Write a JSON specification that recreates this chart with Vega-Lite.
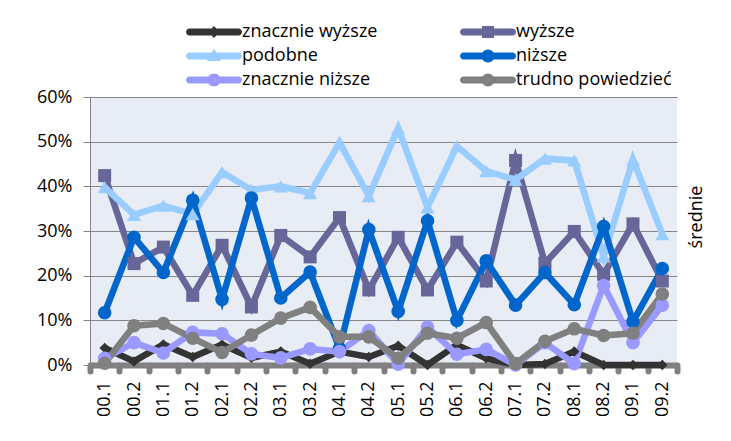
{
  "$schema": "https://vega.github.io/schema/vega-lite/v6.json",
  "width": 587,
  "height": 268,
  "autosize": {"type": "none"},
  "padding": {"left": 90, "top": 97, "right": 54, "bottom": 76},
  "background": "white",
  "title": {"text": "średnie", "orient": "right", "angle": -90, "anchor": "middle", "offset": -10, "dx": 14, "fontSize": 18, "font": "Open Sans", "fontWeight": "normal", "color": "black"},
  "config": {"view": {"fill": "#E8ECF4", "stroke": null}, "font": "Open Sans"},
  "data": {"values": [
    {"o":"00.1","s":"znacznie wyższe","v":3.8},{"o":"00.2","s":"znacznie wyższe","v":0.8},{"o":"01.1","s":"znacznie wyższe","v":4.6},{"o":"01.2","s":"znacznie wyższe","v":1.8},{"o":"02.1","s":"znacznie wyższe","v":4.6},{"o":"02.2","s":"znacznie wyższe","v":1.6},{"o":"03.1","s":"znacznie wyższe","v":3},{"o":"03.2","s":"znacznie wyższe","v":0.3},{"o":"04.1","s":"znacznie wyższe","v":3},{"o":"04.2","s":"znacznie wyższe","v":1.8},{"o":"05.1","s":"znacznie wyższe","v":4.3},{"o":"05.2","s":"znacznie wyższe","v":0},{"o":"06.1","s":"znacznie wyższe","v":4.5},{"o":"06.2","s":"znacznie wyższe","v":1.5},{"o":"07.1","s":"znacznie wyższe","v":0},{"o":"07.2","s":"znacznie wyższe","v":0.2},{"o":"08.1","s":"znacznie wyższe","v":3},{"o":"08.2","s":"znacznie wyższe","v":0},{"o":"09.1","s":"znacznie wyższe","v":0},{"o":"09.2","s":"znacznie wyższe","v":0},
    {"o":"00.1","s":"wyższe","v":42.4},{"o":"00.2","s":"wyższe","v":22.7},{"o":"01.1","s":"wyższe","v":26.4},{"o":"01.2","s":"wyższe","v":15.6},{"o":"02.1","s":"wyższe","v":26.8},{"o":"02.2","s":"wyższe","v":13},{"o":"03.1","s":"wyższe","v":29},{"o":"03.2","s":"wyższe","v":24.2},{"o":"04.1","s":"wyższe","v":33},{"o":"04.2","s":"wyższe","v":16.8},{"o":"05.1","s":"wyższe","v":28.6},{"o":"05.2","s":"wyższe","v":16.8},{"o":"06.1","s":"wyższe","v":27.5},{"o":"06.2","s":"wyższe","v":18.8},{"o":"07.1","s":"wyższe","v":45.8},{"o":"07.2","s":"wyższe","v":22.8},{"o":"08.1","s":"wyższe","v":29.9},{"o":"08.2","s":"wyższe","v":20.3},{"o":"09.1","s":"wyższe","v":31.6},{"o":"09.2","s":"wyższe","v":18.8},
    {"o":"00.1","s":"podobne","v":39.8},{"o":"00.2","s":"podobne","v":33.6},{"o":"01.1","s":"podobne","v":35.7},{"o":"01.2","s":"podobne","v":33.8},{"o":"02.1","s":"podobne","v":43.2},{"o":"02.2","s":"podobne","v":39.2},{"o":"03.1","s":"podobne","v":40},{"o":"03.2","s":"podobne","v":38.5},{"o":"04.1","s":"podobne","v":49.8},{"o":"04.2","s":"podobne","v":37.8},{"o":"05.1","s":"podobne","v":53},{"o":"05.2","s":"podobne","v":35.3},{"o":"06.1","s":"podobne","v":49},{"o":"06.2","s":"podobne","v":43.4},{"o":"07.1","s":"podobne","v":41.5},{"o":"07.2","s":"podobne","v":46.2},{"o":"08.1","s":"podobne","v":45.8},{"o":"08.2","s":"podobne","v":24.3},{"o":"09.1","s":"podobne","v":46},{"o":"09.2","s":"podobne","v":29.3},
    {"o":"00.1","s":"niższe","v":11.7},{"o":"00.2","s":"niższe","v":28.6},{"o":"01.1","s":"niższe","v":20.7},{"o":"01.2","s":"niższe","v":36.9},{"o":"02.1","s":"niższe","v":14.7},{"o":"02.2","s":"niższe","v":37.4},{"o":"03.1","s":"niższe","v":15},{"o":"03.2","s":"niższe","v":20.8},{"o":"04.1","s":"niższe","v":3.7},{"o":"04.2","s":"niższe","v":30.3},{"o":"05.1","s":"niższe","v":12},{"o":"05.2","s":"niższe","v":32.3},{"o":"06.1","s":"niższe","v":10},{"o":"06.2","s":"niższe","v":23.3},{"o":"07.1","s":"niższe","v":13.4},{"o":"07.2","s":"niższe","v":20.7},{"o":"08.1","s":"niższe","v":13.5},{"o":"08.2","s":"niższe","v":31},{"o":"09.1","s":"niższe","v":9.7},{"o":"09.2","s":"niższe","v":21.6},
    {"o":"00.1","s":"znacznie niższe","v":1.5},{"o":"00.2","s":"znacznie niższe","v":5},{"o":"01.1","s":"znacznie niższe","v":2.7},{"o":"01.2","s":"znacznie niższe","v":7.3},{"o":"02.1","s":"znacznie niższe","v":7},{"o":"02.2","s":"znacznie niższe","v":2.5},{"o":"03.1","s":"znacznie niższe","v":1.6},{"o":"03.2","s":"znacznie niższe","v":3.6},{"o":"04.1","s":"znacznie niższe","v":3},{"o":"04.2","s":"znacznie niższe","v":7.7},{"o":"05.1","s":"znacznie niższe","v":0.2},{"o":"05.2","s":"znacznie niższe","v":8.5},{"o":"06.1","s":"znacznie niższe","v":2.4},{"o":"06.2","s":"znacznie niższe","v":3.5},{"o":"07.1","s":"znacznie niższe","v":0},{"o":"07.2","s":"znacznie niższe","v":5},{"o":"08.1","s":"znacznie niższe","v":0.3},{"o":"08.2","s":"znacznie niższe","v":17.8},{"o":"09.1","s":"znacznie niższe","v":5},{"o":"09.2","s":"znacznie niższe","v":13.4},
    {"o":"00.1","s":"trudno powiedzieć","v":0.4},{"o":"00.2","s":"trudno powiedzieć","v":8.8},{"o":"01.1","s":"trudno powiedzieć","v":9.3},{"o":"01.2","s":"trudno powiedzieć","v":6},{"o":"02.1","s":"trudno powiedzieć","v":2.8},{"o":"02.2","s":"trudno powiedzieć","v":6.7},{"o":"03.1","s":"trudno powiedzieć","v":10.5},{"o":"03.2","s":"trudno powiedzieć","v":12.9},{"o":"04.1","s":"trudno powiedzieć","v":6.3},{"o":"04.2","s":"trudno powiedzieć","v":6.3},{"o":"05.1","s":"trudno powiedzieć","v":1.5},{"o":"05.2","s":"trudno powiedzieć","v":7.1},{"o":"06.1","s":"trudno powiedzieć","v":6},{"o":"06.2","s":"trudno powiedzieć","v":9.5},{"o":"07.1","s":"trudno powiedzieć","v":0.3},{"o":"07.2","s":"trudno powiedzieć","v":5.3},{"o":"08.1","s":"trudno powiedzieć","v":8.1},{"o":"08.2","s":"trudno powiedzieć","v":6.6},{"o":"09.1","s":"trudno powiedzieć","v":7.1},{"o":"09.2","s":"trudno powiedzieć","v":15.9}
  ]},
  "encoding": {
    "x": {"field": "o", "type": "ordinal", "sort": null,
      "scale": {"type": "band", "paddingInner": 0, "paddingOuter": 0},
      "axis": {"title": null, "labelAngle": 270, "labelFont": "Open Sans", "labelFontSize": 18, "labelColor": "black", "domainColor": "#808080", "domainWidth": 6, "tickColor": "#808080", "tickWidth": 6, "tickSize": 6, "tickCap": "round", "tickBand": "extent", "labelPadding": 10, "grid": false}},
    "y": {"field": "v", "type": "quantitative",
      "scale": {"domain": [0, 60], "nice": false},
      "axis": {"title": null, "values": [0, 10, 20, 30, 40, 50, 60], "labelExpr": "datum.value + '%'", "labelFont": "Open Sans", "labelFontSize": 18, "labelColor": "black", "domainColor": "#868686", "tickColor": "#868686", "tickSize": 7, "labelPadding": 11, "gridColor": "#868686", "gridOpacity": 1, "grid": true}},
    "color": {"field": "s", "type": "nominal",
      "scale": {"domain": ["znacznie wyższe", "wyższe", "podobne", "niższe", "znacznie niższe", "trudno powiedzieć"], "range": ["#333333", "#666699", "#99CCFF", "#0066CC", "#9999FF", "#808080"]},
      "legend": {"orient": "none", "direction": "horizontal", "legendX": 115, "legendY": -74, "columns": 2, "title": null, "labelFont": "Open Sans", "labelFontSize": 18, "labelColor": "black", "symbolSize": 100, "labelOffset": 19, "columnPadding": 82, "rowPadding": 6, "symbolStrokeWidth": 0, "symbolOpacity": 1}}
  },
  "layer": [
    {"mark": {"type": "line", "strokeWidth": 6.5}},
    {"transform": [{"filter": {"field": "s", "equal": "znacznie wyższe"}}],
     "mark": {"type": "point", "shape": "diamond", "size": 110, "filled": true, "opacity": 1, "strokeWidth": 0}},
    {"transform": [{"filter": {"field": "s", "equal": "wyższe"}}],
     "mark": {"type": "point", "shape": "square", "size": 169, "filled": true, "opacity": 1, "strokeWidth": 0}},
    {"transform": [{"filter": {"field": "s", "equal": "podobne"}}],
     "mark": {"type": "point", "shape": "triangle-up", "size": 200, "filled": true, "opacity": 1, "strokeWidth": 0}},
    {"transform": [{"filter": {"field": "s", "oneOf": ["niższe", "znacznie niższe", "trudno powiedzieć"]}}],
     "mark": {"type": "point", "shape": "circle", "size": 185, "filled": true, "opacity": 1, "strokeWidth": 0}},
    {"mark": {"type": "point", "filled": true, "opacity": 0, "strokeWidth": 0},
     "encoding": {
       "shape": {"field": "s", "type": "nominal",
         "scale": {"domain": ["znacznie wyższe", "wyższe", "podobne", "niższe", "znacznie niższe", "trudno powiedzieć"],
           "range": [
             "M-4.9,-0.7H4.9A0.7,0.7 0 0 1 4.9,0.7H-4.9A0.7,0.7 0 0 1 -4.9,-0.7Z M0,-1.2L1.1,0L0,1.2L-1.1,0Z",
             "M-4.9,-0.7H4.9A0.7,0.7 0 0 1 4.9,0.7H-4.9A0.7,0.7 0 0 1 -4.9,-0.7Z M-1.2,-1.2H1.2V1.2H-1.2Z",
             "M-4.9,-0.7H4.9A0.7,0.7 0 0 1 4.9,0.7H-4.9A0.7,0.7 0 0 1 -4.9,-0.7Z M0,-1.5L1.4,1H-1.4Z",
             "M-4.9,-0.7H4.9A0.7,0.7 0 0 1 4.9,0.7H-4.9A0.7,0.7 0 0 1 -4.9,-0.7Z M-1.3,0A1.3,1.3 0 1 1 1.3,0A1.3,1.3 0 1 1 -1.3,0Z",
             "M-4.9,-0.7H4.9A0.7,0.7 0 0 1 4.9,0.7H-4.9A0.7,0.7 0 0 1 -4.9,-0.7Z M-1.3,0A1.3,1.3 0 1 1 1.3,0A1.3,1.3 0 1 1 -1.3,0Z",
             "M-4.9,-0.7H4.9A0.7,0.7 0 0 1 4.9,0.7H-4.9A0.7,0.7 0 0 1 -4.9,-0.7Z M-1.3,0A1.3,1.3 0 1 1 1.3,0A1.3,1.3 0 1 1 -1.3,0Z"
           ]},
         "legend": null}
     }}
  ]
}
